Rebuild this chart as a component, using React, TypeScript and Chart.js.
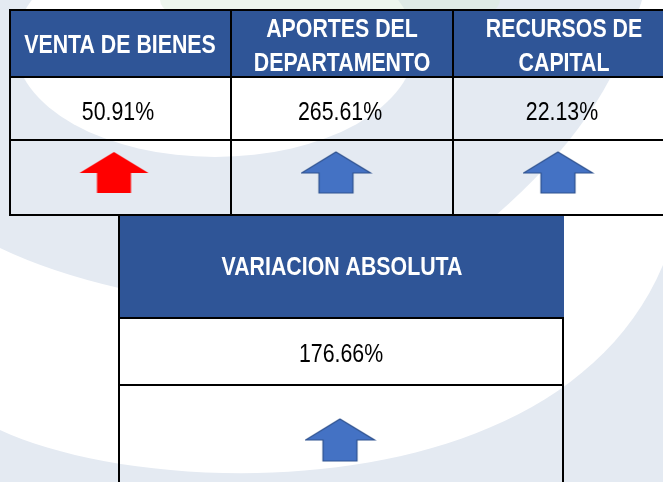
import React, { useEffect, useRef } from "react";
import { Chart, registerables } from "chart.js";

Chart.register(...registerables);

// ---------------- data ----------------
const categories = ["VENTA DE BIENES", "APORTES DEL DEPARTAMENTO", "RECURSOS DE CAPITAL"];
const categoryHeaderLines = [["VENTA DE BIENES"], ["APORTES DEL", "DEPARTAMENTO"], ["RECURSOS DE", "CAPITAL"]];
const variationPercent = [50.91, 265.61, 22.13];
const variationTrend = ["up", "up", "up"];
const trendColors = ["#FF0000", "#4472C4", "#4472C4"];
const totalTitle = "VARIACION ABSOLUTA";
const totalPercent = [176.66];
const totalTrend = ["up"];
const totalColors = ["#4472C4"];

// ---------------- layout / style ----------------
const W = 663;
const H = 482;
const COL_UNIT = 222; // px per category
const FIRST_CENTER = 120; // px of category 0 centre
const X_MIN = -FIRST_CENTER / COL_UNIT;
const X_MAX = X_MIN + W / COL_UNIT;

const HEADER_BLUE = "#2F5597";
const LIGHT = "#E4EAF2";
const FONT = "'Liberation Sans', Arial, sans-serif";
const SQUEEZE = 0.82;

const ROWS = {
  topLine: 9,
  headerLine: 76,
  valueLine: 139,
  bottomLine: 214,
  arrowRowCenter: 172.5,
  headerBaseSingle: 53,
  headerBaseDouble: [37, 70.5],
  valueBase: 119.5,
  totalHeaderTop: 216,
  totalHeaderLine: 317,
  totalValueLine: 384,
  totalHeaderBase: 275,
  totalValueBase: 362,
  totalArrowCenter: 440,
};

function makeArrow(color: string, stroke: string | null, shiftLeft: number, h: number) {
  const w = 69;
  const pad = 1;
  const c = document.createElement("canvas");
  c.width = w + 2 * pad + 2 * shiftLeft;
  c.height = h + 2 * pad;
  const ctx = c.getContext("2d")!;
  const x0 = pad;
  const y0 = pad;
  const headH = 21;
  const shaftW = 34;
  const cx = x0 + w / 2;
  ctx.beginPath();
  ctx.moveTo(cx, y0);
  ctx.lineTo(x0 + w, y0 + headH);
  ctx.lineTo(cx + shaftW / 2, y0 + headH);
  ctx.lineTo(cx + shaftW / 2, y0 + h);
  ctx.lineTo(cx - shaftW / 2, y0 + h);
  ctx.lineTo(cx - shaftW / 2, y0 + headH);
  ctx.lineTo(x0, y0 + headH);
  ctx.closePath();
  ctx.fillStyle = color;
  ctx.fill();
  if (stroke) {
    ctx.strokeStyle = stroke;
    ctx.lineWidth = 1.2;
    ctx.stroke();
  }
  return c;
}

function arrowFor(trend: string, color: string, shift: number, h: number) {
  const isRed = color.toUpperCase() === "#FF0000";
  return makeArrow(color, isRed ? null : "#2F528F", shift, h);
}

function squeezedText(
  ctx: CanvasRenderingContext2D,
  text: string,
  x: number,
  y: number,
  font: string,
  color: string
) {
  ctx.save();
  ctx.translate(x, y);
  ctx.scale(SQUEEZE, 1);
  ctx.font = font;
  ctx.fillStyle = color;
  ctx.textAlign = "center";
  ctx.textBaseline = "alphabetic";
  ctx.fillText(text, 0, 0);
  ctx.restore();
}

const tablePlugin = {
  id: "tablePlugin",
  beforeDraw(chart: any) {
    const ctx: CanvasRenderingContext2D = chart.ctx;
    const xs = chart.scales.x;
    const ys = chart.scales.y;
    const px = (v: number) => xs.getPixelForValue(v);
    const py = (v: number) => ys.getPixelForValue(v);

    ctx.save();
    // background + watermark
    ctx.fillStyle = "#FFFFFF";
    ctx.fillRect(0, 0, W, H);

    ctx.fillStyle = LIGHT;
    ctx.beginPath();
    ctx.moveTo(0, 0);
    ctx.lineTo(642, 0);
    ctx.bezierCurveTo(615, 90, 570, 150, 495, 216);
    ctx.lineTo(300, 300);
    ctx.lineTo(119, 288);
    ctx.quadraticCurveTo(50, 272, 0, 248);
    ctx.closePath();
    ctx.fill();

    ctx.fillStyle = "#FFFFFF";
    ctx.beginPath();
    ctx.ellipse(215, 45, 200, 112, 0, 0, Math.PI * 2);
    ctx.fill();

    ctx.fillStyle = "rgba(214,236,214,0.45)";
    ctx.beginPath();
    ctx.ellipse(330, 0, 170, 40, 0, 0, Math.PI * 2);
    ctx.fill();

    ctx.fillStyle = LIGHT;
    ctx.beginPath();
    ctx.moveTo(0, 430);
    ctx.bezierCurveTo(150, 500, 560, 510, 663, 265);
    ctx.lineTo(663, 482);
    ctx.lineTo(0, 482);
    ctx.closePath();
    ctx.fill();

    // header fills
    const left = px(-0.5);
    ctx.fillStyle = HEADER_BLUE;
    ctx.fillRect(left, py(ROWS.topLine), W - left, py(ROWS.headerLine) - py(ROWS.topLine));
    const bl = px(0);
    const br = px(2);
    ctx.fillRect(bl - 1, py(ROWS.totalHeaderTop), br - bl + 1, py(ROWS.totalHeaderLine) - py(ROWS.totalHeaderTop));

    // header + value text
    categories.forEach((_, i) => {
      const lines = categoryHeaderLines[i];
      const bases = lines.length === 1 ? [ROWS.headerBaseSingle] : ROWS.headerBaseDouble;
      lines.forEach((ln, k) => {
        squeezedText(ctx, ln, px(i), py(bases[k]), `bold 26px ${FONT}`, "#FFFFFF");
      });
      squeezedText(
        ctx,
        `${variationPercent[i].toFixed(2)}%`,
        px(i) - 2,
        py(ROWS.valueBase),
        `26px ${FONT}`,
        "#000000"
      );
    });
    squeezedText(ctx, totalTitle, px(1), py(ROWS.totalHeaderBase), `bold 26px ${FONT}`, "#FFFFFF");
    squeezedText(
      ctx,
      `${totalPercent[0].toFixed(2)}%`,
      px(1) - 1,
      py(ROWS.totalValueBase),
      `26px ${FONT}`,
      "#000000"
    );

    // grid lines
    ctx.fillStyle = "#000000";
    const topY = py(ROWS.topLine);
    const botY = py(ROWS.bottomLine) + 2;
    [ROWS.topLine, ROWS.headerLine, ROWS.valueLine, ROWS.bottomLine].forEach((y) => {
      ctx.fillRect(Math.round(left), py(y), W, 2);
    });
    ctx.fillRect(Math.round(left), topY, 2, botY - topY);
    [0.5, 1.5].forEach((v) => {
      ctx.fillRect(Math.round(px(v)) - 1, topY, 2, botY - topY);
    });
    ctx.fillRect(Math.round(bl) - 2, py(ROWS.totalHeaderTop), 2, H - py(ROWS.totalHeaderTop));
    ctx.fillRect(Math.round(br) - 2, py(ROWS.totalHeaderLine), 2, H - py(ROWS.totalHeaderLine));
    [ROWS.totalHeaderLine, ROWS.totalValueLine].forEach((y) => {
      ctx.fillRect(Math.round(bl) - 2, py(y), br - bl + 2, 2);
    });
    ctx.restore();
  },
};

export default function App() {
  const ref = useRef<HTMLCanvasElement | null>(null);
  useEffect(() => {
    if (!ref.current) return;
    const topArrows = variationTrend.map((t, i) => arrowFor(t, trendColors[i], 6, 41));
    const totalArrows = totalTrend.map((t, i) => arrowFor(t, totalColors[i], 2, 42));
    const chart = new Chart(ref.current, {
      type: "scatter",
      data: {
        datasets: [
          {
            label: "Variación por concepto",
            data: variationPercent.map((v, i) => ({ x: i, y: ROWS.arrowRowCenter, v })),
            pointStyle: topArrows as any,
            pointRadius: 10,
            pointHoverRadius: 10,
            clip: false as any,
          },
          {
            label: totalTitle,
            data: totalPercent.map((v) => ({ x: 1, y: ROWS.totalArrowCenter, v })),
            pointStyle: totalArrows as any,
            pointRadius: 10,
            pointHoverRadius: 10,
            clip: false as any,
          },
        ],
      },
      options: {
        responsive: false,
        animation: false,
        devicePixelRatio: 1,
        layout: { padding: 0, autoPadding: false },
        events: [],
        plugins: { legend: { display: false }, tooltip: { enabled: false } },
        scales: {
          x: { type: "linear", display: false, min: X_MIN, max: X_MAX },
          y: { type: "linear", display: false, min: 0, max: H, reverse: true },
        },
      },
      plugins: [tablePlugin],
    });
    return () => chart.destroy();
  }, []);
  return (
    <div style={{ position: "absolute", left: 0, top: 0, width: W, height: H, overflow: "hidden" }}>
      <canvas ref={ref} width={W} height={H} style={{ display: "block" }} />
    </div>
  );
}
